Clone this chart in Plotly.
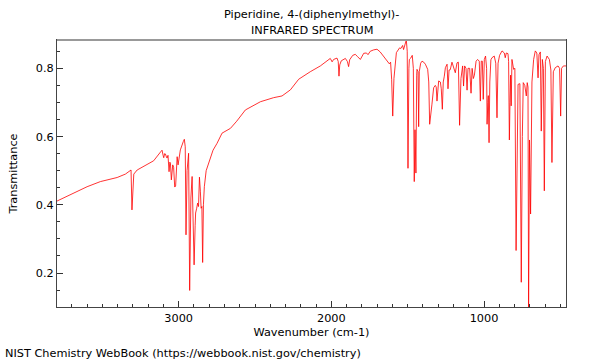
import plotly.graph_objects as go

wavenumber = [
    3797, 3688, 3600, 3513, 3403, 3349, 3322, 3312, 3306, 3300, 3294, 3272, 3207, 3164,
    3115, 3109, 3102, 3098, 3092, 3087, 3080, 3076, 3070, 3063, 3058, 3054, 3048, 3043,
    3039, 3033, 3026, 3020, 3010, 3004, 2989, 2970, 2963, 2957, 2952, 2945, 2935, 2928,
    2920, 2912, 2899, 2892, 2889, 2882, 2876, 2870, 2864, 2858, 2853, 2848, 2843, 2838,
    2832, 2820, 2804, 2775, 2749, 2716, 2661, 2620, 2563, 2465, 2378, 2323, 2268, 2214,
    2138, 2072, 2007, 1995, 1985, 1963, 1955, 1950, 1945, 1935, 1908, 1895, 1887, 1880,
    1860, 1843, 1830, 1810, 1788, 1770, 1760, 1745, 1723, 1701, 1680, 1658, 1635, 1620,
    1612, 1605, 1598, 1590, 1574, 1553, 1545, 1533, 1527, 1515, 1509, 1503, 1498, 1492,
    1489, 1480, 1470, 1463, 1457, 1452, 1446, 1441, 1439, 1432, 1428, 1424, 1415, 1406,
    1395, 1384, 1369, 1362, 1356, 1341, 1330, 1319, 1313, 1308, 1303, 1297, 1286, 1280,
    1273, 1267, 1260, 1253, 1242, 1236, 1229, 1221, 1210, 1199, 1188, 1177, 1168, 1160,
    1151, 1140, 1134, 1127, 1118, 1111, 1105, 1094, 1085, 1078, 1070, 1063, 1052, 1042,
    1031, 1024, 1018, 1011, 1005, 998, 990, 983, 980, 975, 972, 967, 962, 955, 948, 933,
    923, 915, 908, 898, 882, 867, 861, 854, 843, 839, 834, 830, 826, 822, 817, 806, 798,
    790, 783, 777, 765, 756, 749, 743, 733, 723, 717, 712, 708, 702, 695, 686, 675, 664,
    654, 646, 640, 631, 625, 618, 611, 605, 598, 587, 572, 562, 555, 546, 533, 515, 505,
    498, 492, 480, 463,
]

transmittance = [
    0.411, 0.434, 0.453, 0.468, 0.480, 0.490, 0.500, 0.502, 0.385, 0.470, 0.490, 0.502, 0.517, 0.529,
    0.557, 0.560, 0.545, 0.538, 0.550, 0.549, 0.540, 0.537, 0.545, 0.497, 0.525, 0.522, 0.473, 0.515,
    0.517, 0.510, 0.452, 0.455, 0.541, 0.517, 0.561, 0.585, 0.592, 0.570, 0.312, 0.500, 0.551, 0.149,
    0.420, 0.483, 0.224, 0.340, 0.376, 0.390, 0.405, 0.395, 0.481, 0.440, 0.390, 0.395, 0.231, 0.400,
    0.453, 0.500, 0.522, 0.560, 0.580, 0.610, 0.624, 0.645, 0.678, 0.702, 0.714, 0.719, 0.737, 0.768,
    0.790, 0.807, 0.829, 0.819, 0.826, 0.830, 0.820, 0.777, 0.810, 0.822, 0.829, 0.820, 0.805, 0.825,
    0.838, 0.841, 0.835, 0.826, 0.844, 0.845, 0.840, 0.850, 0.854, 0.856, 0.848, 0.834, 0.821, 0.813,
    0.818, 0.768, 0.660, 0.770, 0.846, 0.860, 0.858, 0.867, 0.855, 0.880, 0.883, 0.850, 0.507, 0.800,
    0.826, 0.830, 0.838, 0.800, 0.468, 0.620, 0.493, 0.780, 0.797, 0.790, 0.629, 0.790, 0.815, 0.821,
    0.818, 0.812, 0.797, 0.760, 0.636, 0.695, 0.743, 0.750, 0.745, 0.704, 0.750, 0.763, 0.760, 0.740,
    0.680, 0.760, 0.777, 0.802, 0.812, 0.740, 0.795, 0.796, 0.818, 0.805, 0.787, 0.816, 0.818, 0.633,
    0.770, 0.807, 0.748, 0.807, 0.800, 0.736, 0.800, 0.800, 0.727, 0.800, 0.770, 0.780, 0.821, 0.826,
    0.821, 0.704, 0.821, 0.821, 0.709, 0.826, 0.836, 0.800, 0.636, 0.700, 0.720, 0.582, 0.760, 0.825, 0.831, 0.836,
    0.815, 0.655, 0.815, 0.838, 0.851, 0.845, 0.831, 0.845, 0.843, 0.820, 0.590, 0.700, 0.780, 0.690, 0.826, 0.797, 0.800,
    0.266, 0.600, 0.753, 0.755, 0.173, 0.600, 0.758, 0.750, 0.719, 0.758, 0.745, 0.090, 0.590, 0.373, 0.760, 0.826, 0.851,
    0.845, 0.772, 0.840, 0.848, 0.616, 0.826, 0.800, 0.441, 0.820, 0.836, 0.826, 0.795, 0.524, 0.790, 0.802, 0.807, 0.800,
    0.660, 0.800, 0.807, 0.807,
]

title_lines = ["Piperidine, 4-(diphenylmethyl)-", "INFRARED SPECTRUM"]
x_range = [3797, 463]
y_range = [0.1005, 0.883]
x_tick_vals = [3000, 2000, 1000]
y_tick_vals = [0.2, 0.4, 0.6, 0.8]

FONT = "DejaVu Sans"
FS = 11.3

fig = go.Figure()
fig.add_trace(go.Scatter(
    x=wavenumber, y=transmittance, mode="lines",
    line=dict(color="rgba(255,0,0,0.8)", width=1),
    hoverinfo="skip", showlegend=False,
))

fig.update_layout(
    width=600, height=360,
    margin=dict(l=57, r=34, t=40, b=53, autoexpand=False),
    paper_bgcolor="white", plot_bgcolor="white",
    font=dict(family=FONT, size=FS, color="black"),
    xaxis=dict(
        range=x_range, tickvals=x_tick_vals, ticktext=[str(v) for v in x_tick_vals],
        ticks="inside", ticklen=6, tickcolor="#333", showgrid=False, zeroline=False,
        showline=True, linecolor="#444", linewidth=1, mirror=True, automargin=False,
        minor=dict(dtick=100, tick0=0, ticks="inside", ticklen=3, tickcolor="#333", showgrid=False),
        title=dict(text="Wavenumber (cm-1)", standoff=4, font=dict(family=FONT, size=FS)),
        tickfont=dict(family=FONT, size=FS),
    ),
    yaxis=dict(
        range=y_range, tickvals=y_tick_vals, ticktext=[f"{v:.1f}" for v in y_tick_vals],
        ticks="inside", ticklen=6, tickcolor="#333", showgrid=False, zeroline=False,
        showline=True, linecolor="#444", linewidth=1, mirror=True, automargin=False,
        minor=dict(dtick=0.05, tick0=0, ticks="inside", ticklen=3, tickcolor="#333", showgrid=False),
        title=dict(text="Transmittance", standoff=15, font=dict(family=FONT, size=FS)),
        tickfont=dict(family=FONT, size=FS),
    ),
)

# lighter top border as in the reference
fig.add_shape(type="line", xref="paper", yref="paper", x0=0, x1=1, y0=1, y1=1,
              line=dict(color="#999", width=2), layer="above")

for txt, yy in zip(title_lines, [1.097, 1.037]):
    fig.add_annotation(
        text=txt, xref="paper", yref="paper", x=0.5, y=yy,
        xanchor="center", yanchor="middle", showarrow=False,
        font=dict(family=FONT, size=FS, color="black"),
    )

fig.add_annotation(
    text="NIST Chemistry WebBook (https://webbook.nist.gov/chemistry)",
    xref="paper", yref="paper", x=-0.106, y=-0.142, xanchor="left", yanchor="top",
    showarrow=False, font=dict(family=FONT, size=FS, color="black"),
)

fig.write_html(
    "out.html",
    config={"displayModeBar": False},
    post_script="document.body.style.margin='0';document.body.style.padding='0';document.body.style.overflow='hidden';",
)
